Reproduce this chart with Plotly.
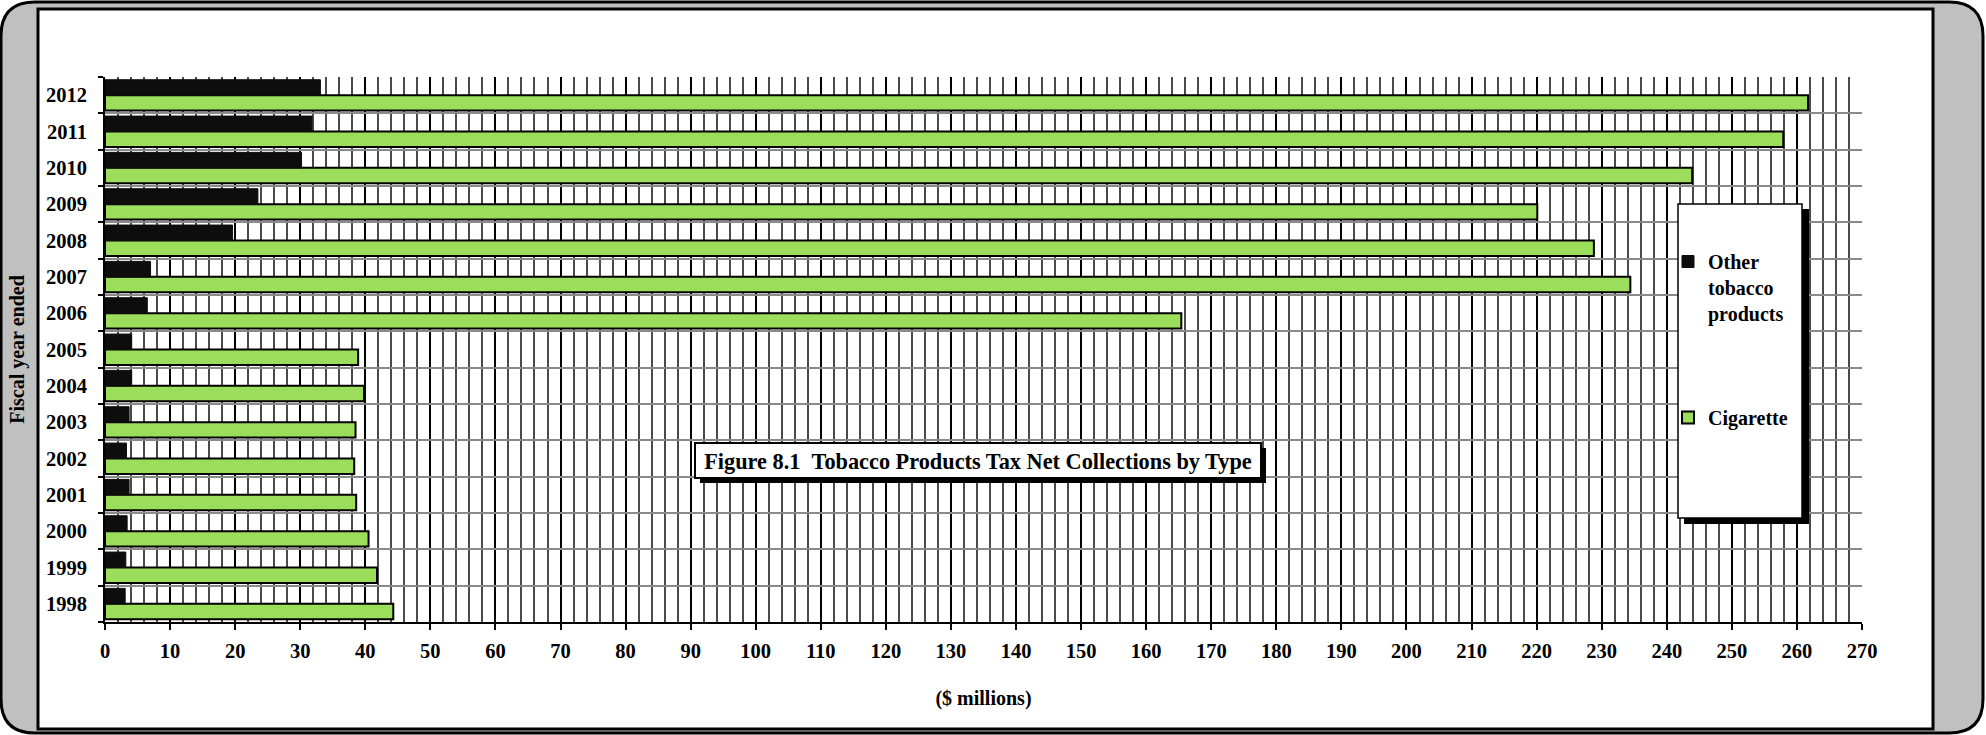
import plotly.graph_objects as go

# ---------------- data ----------------
years = ["1998", "1999", "2000", "2001", "2002", "2003", "2004", "2005",
         "2006", "2007", "2008", "2009", "2010", "2011", "2012"]
cigarette = [44.3, 41.8, 40.5, 38.6, 38.3, 38.5, 39.8, 38.9,
             165.4, 234.4, 228.8, 220.1, 243.9, 257.9, 261.7]
other_tobacco = [3.1, 3.2, 3.4, 3.7, 3.3, 3.7, 4.1, 4.1,
                 6.5, 7.0, 19.6, 23.5, 30.2, 31.8, 33.1]
x_ticks = list(range(0, 271, 10))

title_text = "Figure 8.1\u00a0\u00a0Tobacco Products Tax Net Collections by Type"
series_names = ["Cigarette", "Other<br>tobacco<br>products"]

# ---------------- layout geometry (pixels) ----------------
W, H = 1986, 735
L, R, T, B = 105, 1862, 77, 622          # plot area edges in pixels
PW, PH = R - L, B - T

def px(x):
    return (x - L) / PW

def py(y):
    return (B - y) / PH

FONT = "Liberation Serif, Times New Roman, serif"
GREEN = "#9CDE5B"
TICKFONT = dict(family=FONT, size=20.5, color="black", weight="bold")
TEXTFONT = dict(family=FONT, size=20, color="black", weight="bold")
TITLEFONT = dict(family=FONT, size=22.3, color="black", weight="bold")

fig = go.Figure()
fig.add_trace(go.Bar(
    y=years, x=cigarette, orientation="h", name=series_names[0],
    legendgroup="cig", legendrank=2,
    marker=dict(color=GREEN, line=dict(color="black", width=2)),
))
fig.add_trace(go.Bar(
    y=years, x=other_tobacco, orientation="h", name=series_names[1],
    legendgroup="oth", legendrank=1,
    marker=dict(color="#0d0d0d", line=dict(color="#0d0d0d", width=1)),
))

shapes = []
# outer grey rounded frame
x0, y0, x1, y1, r = 1, 2, 1983, 733, 34
path = (f"M {px(x0 + r)},{py(y0)} L {px(x1 - r)},{py(y0)} "
        f"Q {px(x1)},{py(y0)} {px(x1)},{py(y0 + r)} "
        f"L {px(x1)},{py(y1 - r)} Q {px(x1)},{py(y1)} {px(x1 - r)},{py(y1)} "
        f"L {px(x0 + r)},{py(y1)} Q {px(x0)},{py(y1)} {px(x0)},{py(y1 - r)} "
        f"L {px(x0)},{py(y0 + r)} Q {px(x0)},{py(y0)} {px(x0 + r)},{py(y0)} Z")
shapes.append(dict(type="path", path=path, xref="paper", yref="paper",
                   fillcolor="#C0C0C0", line=dict(color="black", width=3),
                   layer="below"))
# inner white panel
shapes.append(dict(type="rect", xref="paper", yref="paper",
                   x0=px(38), x1=px(1933), y0=py(729), y1=py(9),
                   fillcolor="white", line=dict(color="black", width=3),
                   layer="below"))
# title box shadow + box
shapes.append(dict(type="rect", xref="paper", yref="paper",
                   x0=px(700), x1=px(1266), y0=py(483), y1=py(448),
                   fillcolor="black", line=dict(width=0), layer="above"))
shapes.append(dict(type="rect", xref="paper", yref="paper",
                   x0=px(695), x1=px(1261), y0=py(478), y1=py(443),
                   fillcolor="white", line=dict(color="black", width=2),
                   layer="above"))
# legend box shadow + box
shapes.append(dict(type="rect", xref="paper", yref="paper",
                   x0=px(1684), x1=px(1809), y0=py(524), y1=py(209),
                   fillcolor="black", line=dict(width=0), layer="above"))
shapes.append(dict(type="rect", xref="paper", yref="paper",
                   x0=px(1678), x1=px(1802), y0=py(518), y1=py(204),
                   fillcolor="white", line=dict(color="black", width=1.5),
                   layer="above"))

fig.update_layout(
    width=W, height=H,
    margin=dict(l=L, r=W - R, t=T, b=H - B, pad=0, autoexpand=False),
    paper_bgcolor="white",
    plot_bgcolor="rgba(0,0,0,0)",
    font=TEXTFONT,
    barmode="group", bargap=0.15, bargroupgap=0,
    shapes=shapes,
    title=dict(text=title_text, xref="paper", yref="paper",
               x=px(978), xanchor="center", y=py(461), yanchor="middle",
               font=TITLEFONT),
    legend=dict(x=px(1668), xanchor="left", y=py(242), yanchor="top",
                bgcolor="rgba(0,0,0,0)", borderwidth=0,
                traceorder="grouped", tracegroupgap=75,
                valign="top", font=TEXTFONT),
    showlegend=True,
)

fig.update_xaxes(
    range=[0, 270], tickvals=x_ticks, ticktext=[str(v) for v in x_ticks],
    automargin=False,
    showgrid=True, gridcolor="black", gridwidth=2,
    minor=dict(dtick=2, showgrid=True, gridcolor="#4a4a4a", gridwidth=2, ticks=""),
    ticks="outside", ticklen=6, tickwidth=1.5, tickcolor="black",
    showline=True, linecolor="black", linewidth=2, mirror=False,
    zeroline=False,
    tickfont=TICKFONT,
    ticklabelstandoff=3,
    title=dict(text="($ millions)", standoff=30, font=TEXTFONT),
)
fig.update_yaxes(
    type="category", categoryorder="array", categoryarray=years,
    automargin=False,
    tickson="boundaries", ticks="outside", ticklen=5, tickwidth=1.5,
    tickcolor="black",
    showgrid=True, gridcolor="#8a8a8a", gridwidth=2,
    showline=True, linecolor="black", linewidth=2, mirror=False,
    zeroline=False,
    tickfont=TICKFONT,
    ticklabelstandoff=12,
    title=dict(text="Fiscal year ended", standoff=16, font=TEXTFONT),
)

fig.write_html("out.html", config={"displayModeBar": False},
               post_script="document.body.style.margin='0px';")
